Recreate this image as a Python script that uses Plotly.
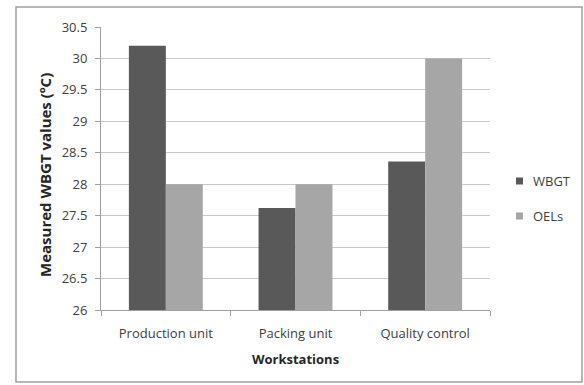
import plotly.graph_objects as go

categories = ["Production unit", "Packing unit", "Quality control"]
series_names = ["WBGT", "OELs"]
wbgt = [30.2, 27.62, 28.36]
oels = [28, 28, 30]
colors = ["#595959", "#a6a6a6"]
y_ticks = [26, 26.5, 27, 27.5, 28, 28.5, 29, 29.5, 30, 30.5]
y_tick_labels = ["26", "26.5", "27", "27.5", "28", "28.5", "29", "29.5", "30", "30.5"]

fig = go.Figure()
for name, vals, col in zip(series_names, [wbgt, oels], colors):
    fig.add_trace(go.Bar(name=name, x=categories, y=vals, marker_color=col,
                         marker_line_width=0, showlegend=False))

font_family = "Open Sans, Liberation Sans, sans-serif"
L, R, T, B = 101, 490, 27, 310
W, H = 584, 385
pw, ph = R - L, B - T

def px(x):
    return (x - L) / pw

def py(y):
    return (B - y) / ph

shapes = [dict(type="rect", xref="paper", yref="paper",
               x0=px(16), x1=px(582), y0=py(382), y1=py(7),
               line=dict(color="#a0a0a0", width=1.5), layer="below")]
annotations = [dict(text="<b>Measured WBGT values (ºC)</b>", textangle=-90,
                    xref="paper", yref="paper", x=px(45), y=py(175),
                    xanchor="center", yanchor="middle", showarrow=False,
                    font=dict(size=15, color="#262626"))]
# manual legend
for i, (name, col) in enumerate(zip(series_names, colors)):
    cy = 181 + i * 35
    shapes.append(dict(type="rect", xref="paper", yref="paper",
                       x0=px(516), x1=px(523), y0=py(cy + 3.5), y1=py(cy - 3.5),
                       fillcolor=col, line=dict(width=0)))
    annotations.append(dict(text=name, xref="paper", yref="paper",
                            x=px(531), y=py(cy), xanchor="left", yanchor="middle",
                            showarrow=False, font=dict(size=13, color="#404040")))

fig.update_layout(
    width=W, height=H,
    margin=dict(l=L, r=W - R, t=T, b=H - B, pad=0, autoexpand=False),
    barmode="group", bargap=0.43, bargroupgap=0,
    plot_bgcolor="white", paper_bgcolor="white",
    font=dict(family=font_family, size=13, color="#404040"),
    showlegend=False,
    xaxis=dict(
        showline=True, linecolor="#a0a0a0", linewidth=1,
        ticks="outside", tickson="boundaries", ticklen=5, tickcolor="#a0a0a0",
        title=dict(text="<b>Workstations</b>", font=dict(size=13, color="#262626"), standoff=14),
        tickfont=dict(size=13, color="#404040"), ticklabelstandoff=11,
        showgrid=False,
    ),
    yaxis=dict(
        range=[26, 30.5], tickvals=y_ticks, ticktext=y_tick_labels,
        showline=True, linecolor="#a0a0a0", linewidth=1,
        ticks="outside", ticklen=5, tickcolor="#a0a0a0",
        showgrid=True, gridcolor="#c8c8c8", gridwidth=1,
        zeroline=False,
        tickfont=dict(size=13, color="#404040"), ticklabelstandoff=5,
    ),
    annotations=annotations,
    shapes=shapes,
)

fig.write_html("out.html", config={"displayModeBar": False},
               post_script="document.body.style.margin='0';")
